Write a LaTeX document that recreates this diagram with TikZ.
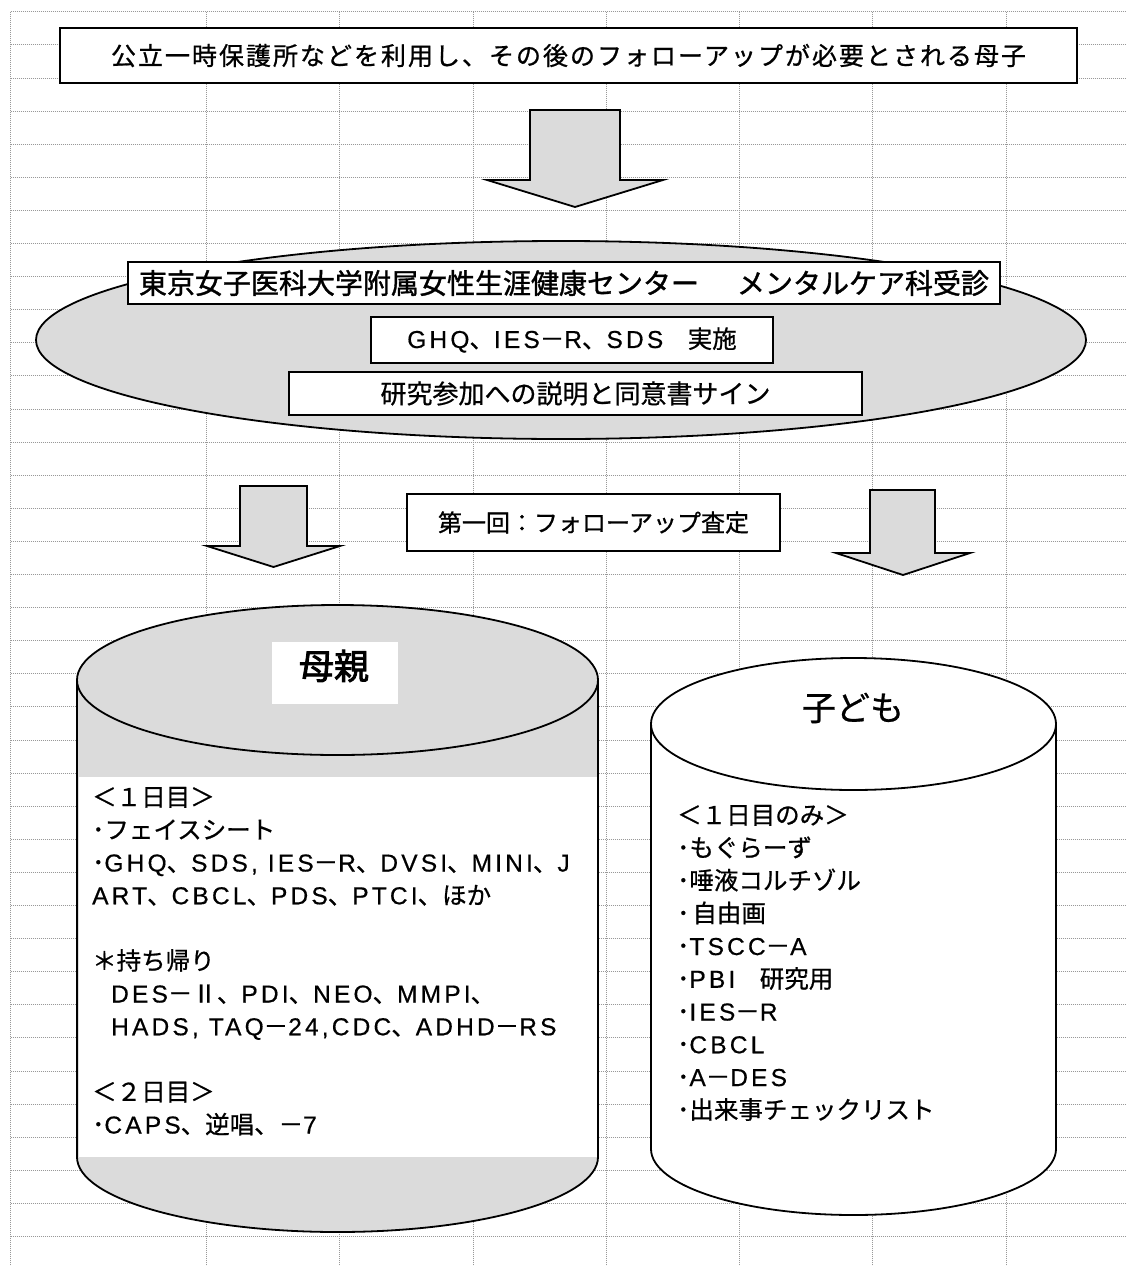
\documentclass[tikz,border=0pt]{standalone}
\usepackage{fontspec}
\usetikzlibrary{shapes.geometric}
\setmainfont{Liberation Sans}
\newfontfamily\latfont[Scale=1.0,LetterSpace=13,FakeBold=0.5]{Liberation Sans}
\newfontfamily\cjkfont[FakeBold=0.7]{Noto Sans CJK JP}
\newfontfamily\cjkboldfont[FakeBold=2.5]{Noto Sans CJK JP}
\newfontfamily\cjkmedfont[FakeBold=1.3]{Noto Sans CJK JP}
\newfontfamily\cjkwidefont[LetterSpace=8,FakeBold=0.8]{Noto Sans CJK JP}
\XeTeXinterchartokenstate=1
\newXeTeXintercharclass\CJKcls
\newcount\cjkcnt
\def\cjkrange#1#2{\cjkcnt=#1\relax
  \loop\ifnum\cjkcnt<#2\relax
    \XeTeXcharclass\cjkcnt=\CJKcls
    \advance\cjkcnt by 1\relax
  \repeat}
\cjkrange{"2160}{"2180}
\cjkrange{"3000}{"3100}
\cjkrange{"4E00}{"A000}
\cjkrange{"FF00}{"FFF0}
\XeTeXinterchartoks 0 \CJKcls = {\cjkfont}
\XeTeXinterchartoks 4095 \CJKcls = {\cjkfont}
\XeTeXinterchartoks \CJKcls 0 = {\latfont}
\begin{document}
\begin{tikzpicture}[x=1pt,y=-1pt,
  gridline/.style={draw=black!40, line width=0.7pt, dash pattern=on 0.8pt off 1.2pt},
  outl/.style={draw=black, line width=1.8pt},
  stip/.style={fill=black!14},
  tbox/.style={outl, fill=white, rectangle, inner sep=0pt},
  ltxt/.style={anchor=base west, inner sep=0pt, font=\fontsize{24.5}{28}\latfont},
  blockarrow/.style={outl, stip, line join=miter},
]
\useasboundingbox (0,0) rectangle (1125,1266);
\fill[white] (0,0) rectangle (1125,1266);
% spreadsheet grid
\foreach \k in {0,...,37} \draw[gridline] (10.5,11.7+33.1*\k) -- (1125,11.7+33.1*\k);
\foreach \gx in {10.5,206,339,473,606,739,872,1006} \draw[gridline] (\gx,11.7) -- (\gx,1266);

% title box
\node[tbox, minimum width=1017pt, minimum height=55pt,
  font=\fontsize{25}{30}\latfont\let\cjkfont\cjkwidefont] (title) at (568.5,55.5)
  {公立一時保護所などを利用し、その後のフォローアップが必要とされる母子};

% arrow 1
\draw[blockarrow] (530,110) -- (620,110) -- (620,180) -- (663,180) -- (575,207) -- (487,180) -- (530,180) -- cycle;

% clinic ellipse
\node[ellipse, outl, stip, minimum width=1050pt, minimum height=198pt, inner sep=0pt] (clinic) at (561,340) {};
\node[tbox, minimum width=872pt, minimum height=42pt,
  font=\fontsize{28}{32}\latfont\let\cjkfont\cjkmedfont] (center) at (564,283)
  {東京女子医科大学附属女性生涯健康センター　\hspace{10pt}メンタルケア科受診};
\node[tbox, minimum width=402pt, minimum height=46pt,
  font=\fontsize{24.5}{28}\latfont] (tests) at (572,340)
  {GHQ、IES－R、SDS　実施};
\node[tbox, minimum width=573pt, minimum height=43pt,
  font=\fontsize{26}{30}\latfont] (consent) at (575.5,393.5)
  {研究参加への説明と同意書サイン};

% first follow-up
\node[tbox, minimum width=373pt, minimum height=57pt,
  font=\fontsize{24}{28}\latfont] (first) at (593.5,522.5)
  {第一回：フォローアップ査定};
\draw[blockarrow] (240,486) -- (307,486) -- (307,546) -- (340,546) -- (273.5,567) -- (207,546) -- (240,546) -- cycle;
\draw[blockarrow] (870,490) -- (935,490) -- (935,553) -- (970,553) -- (903,575) -- (836,553) -- (870,553) -- cycle;

% mother cylinder
\path[stip] (77,680) -- (77,1157) arc[start angle=180,end angle=360,x radius=260.5pt,y radius=75pt] -- (598,680) -- cycle;
\fill[white] (78.5,777) rectangle (596.5,1157);
\draw[outl, stip] (337.5,680) ellipse [x radius=260.5pt, y radius=75pt];
\draw[outl] (77,680) -- (77,1157) arc[start angle=180,end angle=360,x radius=260.5pt,y radius=75pt] -- (598,680);
\fill[white] (272,642) rectangle (398,704);
\node[inner sep=0pt, font=\fontsize{35}{40}\latfont\let\cjkfont\cjkboldfont] (mother) at (334,666) {母親};

\node[ltxt] (m1) at (92,806) {＜１日目＞};
\node[ltxt] (m2) at (92,838.75) {･フェイスシート};
\node[ltxt] (m3) at (92,871.5) {･GHQ、SDS, IES－R、DVSI、MINI、J};
\node[ltxt] (m4) at (92,904.25) {ART、CBCL、PDS、PTCI、ほか};
\node[ltxt] (m5) at (92,969.75) {＊持ち帰り};
\node[ltxt] (m6) at (111,1002.5) {DES－Ⅱ、PDI、NEO、MMPI、};
\node[ltxt] (m7) at (111,1035.25) {HADS, TAQ－24,CDC、ADHD－RS};
\node[ltxt] (m8) at (92,1100.75) {＜２日目＞};
\node[ltxt] (m9) at (92,1133.5) {･CAPS、逆唱、－7};

% child cylinder
\path[fill=white] (651,724) -- (651,1149) arc[start angle=180,end angle=360,x radius=202.5pt,y radius=66pt] -- (1056,724) -- cycle;
\draw[outl, fill=white] (853.5,724) ellipse [x radius=202.5pt, y radius=66pt];
\draw[outl] (651,724) -- (651,1149) arc[start angle=180,end angle=360,x radius=202.5pt,y radius=66pt] -- (1056,724);
\node[inner sep=0pt, font=\fontsize{34}{40}\latfont] (child) at (853,708) {子ども};

\node[ltxt] (c1) at (677,824) {＜１日目のみ＞};
\node[ltxt] (c2) at (677,856.75) {･もぐらーず};
\node[ltxt] (c3) at (677,889.5) {･唾液コルチゾル};
\node[ltxt] (c4) at (677,922.25) {･\hspace{3pt}自由画};
\node[ltxt] (c5) at (677,955) {･TSCC－A};
\node[ltxt] (c6) at (677,987.75) {･PBI　研究用};
\node[ltxt] (c7) at (677,1020.5) {･IES－R};
\node[ltxt] (c8) at (677,1053.25) {･CBCL};
\node[ltxt] (c9) at (677,1086) {･A－DES};
\node[ltxt] (c10) at (677,1118.75) {･出来事チェックリスト};
\end{tikzpicture}
\end{document}
